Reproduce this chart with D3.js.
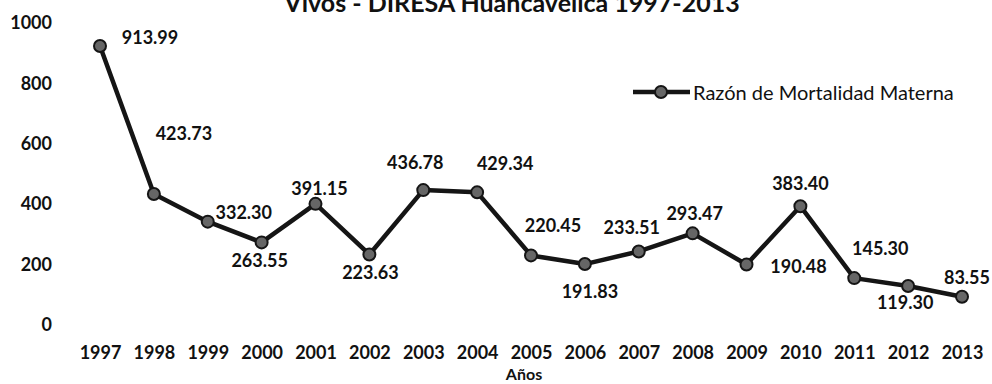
<!DOCTYPE html>
<html>
<head>
<meta charset="utf-8">
<script src="https://cdnjs.cloudflare.com/ajax/libs/d3/7.8.5/d3.min.js"></script>
<style>
  html, body { margin: 0; padding: 0; background: #fff; }
  svg { display: block; }
  text { font-family: Lato, "Open Sans", sans-serif; fill: #111; }
</style>
</head>
<body>
<svg id="chart" width="992" height="384"></svg>
<script>
// Razón de Mortalidad Materna, DIRESA Huancavelica 1997-2013
const years = ["1997","1998","1999","2000","2001","2002","2003","2004","2005",
               "2006","2007","2008","2009","2010","2011","2012","2013"];
const rmm = [913.99, 423.73, 332.30, 263.55, 391.15, 223.63, 436.78, 429.34, 220.45,
             191.83, 233.51, 293.47, 190.48, 383.40, 145.30, 119.30, 83.55];
const yTicks = [0, 200, 400, 600, 800, 1000];
const seriesName = "Razón de Mortalidad Materna";
const titleText = "Vivos - DIRESA Huancavelica 1997-2013";
const xTitle = "Años";

// where each value label sits relative to its marker (dx, dy in px)
const labelOffsets = [
  [50, -9], [30, -61], [36, -10], [-2, 18], [4, -16], [1, 18], [-8, -28], [28, -29],
  [22, -30], [5, 27], [-7, -24], [2, -20], [52, 2], [0, -23], [26, -30], [-3, 16], [5, -20]
];

const svg = d3.select("#chart");

const x = d3.scalePoint().domain(years).range([100, 962]);
const y = d3.scaleLinear().domain([0, 1000]).range([322, 20]);

const numFont = "18px";

// title (second line, running off the top edge)
svg.append("text")
  .attr("x", 512).attr("y", 12)
  .attr("text-anchor", "middle")
  .style("font-size", "25px").style("font-weight", "bold")
  .text(titleText);

// y axis: labels only
const yAxis = svg.append("g")
  .attr("transform", "translate(52,3)")
  .call(d3.axisLeft(y).tickValues(yTicks).tickSize(0).tickPadding(0).tickFormat(d3.format("d")));
yAxis.select(".domain").remove();
yAxis.selectAll("text")
  .style("font-family", "Lato, sans-serif")
  .style("font-size", numFont).style("font-weight", "bold").attr("fill", "#111");

// x axis: year labels only
const xAxis = svg.append("g")
  .attr("transform", "translate(0,346)")
  .call(d3.axisBottom(x).tickSize(0).tickPadding(0));
xAxis.select(".domain").remove();
xAxis.selectAll("text")
  .style("font-family", "Lato, sans-serif")
  .style("font-size", numFont).style("font-weight", "bold").attr("fill", "#111");

svg.append("text")
  .attr("x", 524).attr("y", 380)
  .attr("text-anchor", "middle")
  .style("font-size", "16px").style("font-weight", "bold")
  .text(xTitle);

// series line
const line = d3.line().x((d, i) => x(years[i])).y(d => y(d));
svg.append("path")
  .datum(rmm)
  .attr("d", line)
  .attr("fill", "none")
  .attr("stroke", "#151515")
  .attr("stroke-width", 4.5)
  .attr("stroke-linejoin", "round");

// markers
svg.append("g").selectAll("circle")
  .data(rmm)
  .join("circle")
  .attr("cx", (d, i) => x(years[i]))
  .attr("cy", d => y(d))
  .attr("r", 6)
  .attr("fill", "#666")
  .attr("stroke", "#151515")
  .attr("stroke-width", 2);

// value labels
svg.append("g").selectAll("text")
  .data(rmm)
  .join("text")
  .attr("x", (d, i) => x(years[i]) + labelOffsets[i][0])
  .attr("y", (d, i) => y(d) + labelOffsets[i][1])
  .attr("text-anchor", "middle")
  .attr("dominant-baseline", "central")
  .style("font-size", numFont).style("font-weight", "bold")
  .text(d => d3.format(".2f")(d));

// legend
const lg = svg.append("g").attr("transform", "translate(633,92)");
lg.append("line")
  .attr("x1", 0).attr("x2", 57).attr("y1", 0).attr("y2", 0)
  .attr("stroke", "#151515").attr("stroke-width", 4.5);
lg.append("circle")
  .attr("cx", 28).attr("cy", 0).attr("r", 6)
  .attr("fill", "#666").attr("stroke", "#151515").attr("stroke-width", 2);
lg.append("text")
  .attr("x", 60).attr("y", 0)
  .attr("dominant-baseline", "central")
  .style("font-size", "20px")
  .text(seriesName);
</script>
</body>
</html>
